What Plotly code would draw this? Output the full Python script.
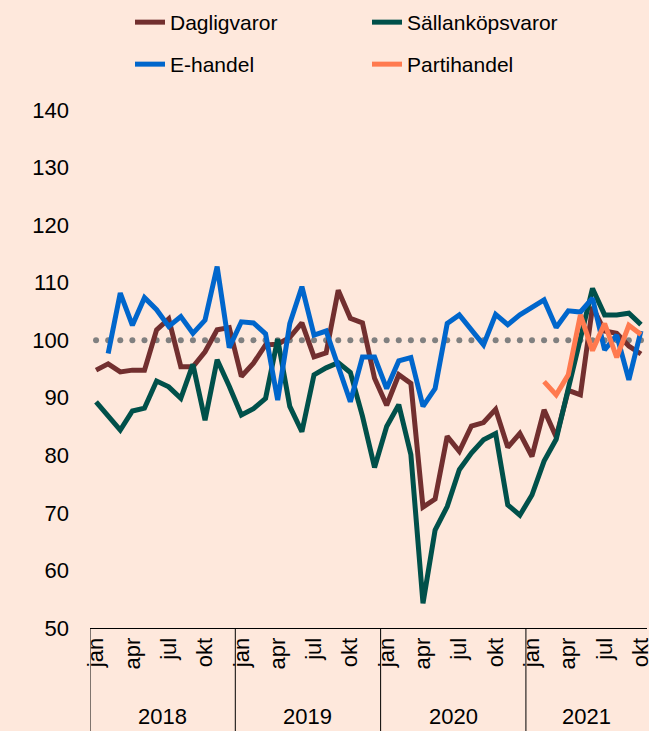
import plotly.graph_objects as go

# ---------------- data ----------------
month_names = ["jan", "feb", "mar", "apr", "maj", "jun", "jul", "aug", "sep", "okt", "nov", "dec"]
years = ["2018", "2019", "2020", "2021"]
n_months = 46  # jan 2018 - okt 2021
tick_months = ["jan", "apr", "jul", "okt"]

dagligvaror = [94.8, 95.9, 94.5, 94.8, 94.8, 101.8, 103.7, 95.4, 95.4, 98.0, 101.8, 102.2,
               93.7, 96.0, 99.2, 99.3, 100.5, 103.0, 97.1, 97.8, 108.7, 103.8, 103.0, 93.4,
               88.7, 94.0, 92.5, 71.0, 72.4, 83.3, 80.7, 85.1, 85.7, 88.0, 81.4, 83.8,
               79.8, 87.9, 83.2, 91.3, 90.5, 105.8, 101.6, 101.2, 99.0, 97.6]

sallankop = [89.3, 87.0, 84.4, 87.7, 88.2, 92.9, 91.9, 89.9, 95.8, 86.1, 96.6, 92.0,
             87.0, 88.1, 89.9, 100.2, 88.5, 84.1, 94.0, 95.2, 96.1, 94.4, 86.8, 77.9,
             85.0, 88.8, 80.1, 54.3, 67.0, 71.1, 77.5, 80.4, 82.7, 83.8, 71.4, 69.6,
             73.1, 79.0, 82.8, 91.6, 100.3, 109.0, 104.4, 104.4, 104.7, 102.7]

ehandel = [None, 97.7, 108.2, 102.6, 107.4, 105.3, 102.4, 104.1, 101.2, 103.5, 112.8, 98.7,
           103.2, 103.0, 101.1, 89.6, 102.9, 109.3, 100.9, 101.6, 95.7, 89.3, 97.1, 97.1,
           91.6, 96.4, 97.0, 88.5, 91.6, 102.9, 104.4, 101.8, 99.2, 104.5, 102.7, 104.4,
           105.6, 107.0, 102.2, 105.1, 104.9, 107.3, 98.3, 100.9, 93.1, 101.6]

partihandel = [None] * 37 + [92.8, 90.5, 94.0, 104.4, 98.2, 102.9, 97.0, 102.6, 101.0]

reference = [100] * n_months

x = list(range(n_months))
tickvals = [i for i in x if month_names[i % 12] in tick_months]
ticktext = [month_names[i % 12] for i in tickvals]

# ---------------- style ----------------
BG = "#FEE8DC"
FONT = "Liberation Sans, Arial, sans-serif"
colors = {
    "Dagligvaror": "#722F2F",
    "Sällanköpsvaror": "#00504A",
    "E-handel": "#0066CC",
    "Partihandel": "#FF7A4F",
}

fig = go.Figure()

fig.add_trace(go.Scatter(x=x, y=reference, mode="markers", showlegend=False,
                         marker=dict(color="#808080", size=6), hoverinfo="skip"))

series = [("Dagligvaror", dagligvaror, "legend"),
          ("Sällanköpsvaror", sallankop, "legend"),
          ("E-handel", ehandel, "legend2"),
          ("Partihandel", partihandel, "legend2")]
for name, vals, leg in series:
    fig.add_trace(go.Scatter(x=x, y=vals, mode="lines", name=name, legend=leg,
                             line=dict(color=colors[name], width=5)))

# year labels and separators
shapes = []
annotations = []
plot_h = 731 - 110 - 103
for k, yr in enumerate(years):
    start = k * 12 - 0.5
    end = min(start + 12, n_months - 0.5)
    shapes.append(dict(type="line", xref="x", yref="paper", x0=start, x1=start,
                       y0=0, y1=-103 / plot_h, line=dict(color="black", width=1)))
    annotations.append(dict(text=yr, xref="x", yref="paper", x=(start + end) / 2,
                            y=-88 / plot_h, showarrow=False, yanchor="middle",
                            font=dict(size=22, color="black", family=FONT)))

fig.update_layout(
    width=649, height=731,
    margin=dict(l=90, r=2, t=110, b=103, autoexpand=False),
    paper_bgcolor=BG, plot_bgcolor=BG,
    font=dict(family=FONT, size=22, color="black"),
    shapes=shapes, annotations=annotations,
    legend=dict(orientation="h", x=(130 - 90) / 557, xanchor="left", y=1 + (110 - 2) / plot_h,
                yanchor="top", entrywidth=192, bgcolor="rgba(0,0,0,0)", font=dict(size=21),
                itemwidth=30),
    legend2=dict(orientation="h", x=(130 - 90) / 557, xanchor="left", y=1 + (110 - 44) / plot_h,
                 yanchor="top", entrywidth=192, bgcolor="rgba(0,0,0,0)", font=dict(size=21),
                 itemwidth=30),
    showlegend=True,
)
fig.update_xaxes(range=[-0.5, n_months - 0.5], tickvals=tickvals, ticktext=ticktext,
                 tickangle=-90, showgrid=False, zeroline=False, showline=True,
                 linecolor="black", linewidth=1, ticks="", tickfont=dict(size=22),
                 ticklabeloverflow="allow", automargin=False)
fig.update_yaxes(range=[50, 140], dtick=10, showgrid=False, zeroline=False,
                 showline=False, ticks="", tickfont=dict(size=22), ticklabelstandoff=20,
                 automargin=False)

fig.write_html("out.html", config={"displayModeBar": False},
               post_script="document.body.style.margin='0';document.body.style.background='%s';" % BG)
